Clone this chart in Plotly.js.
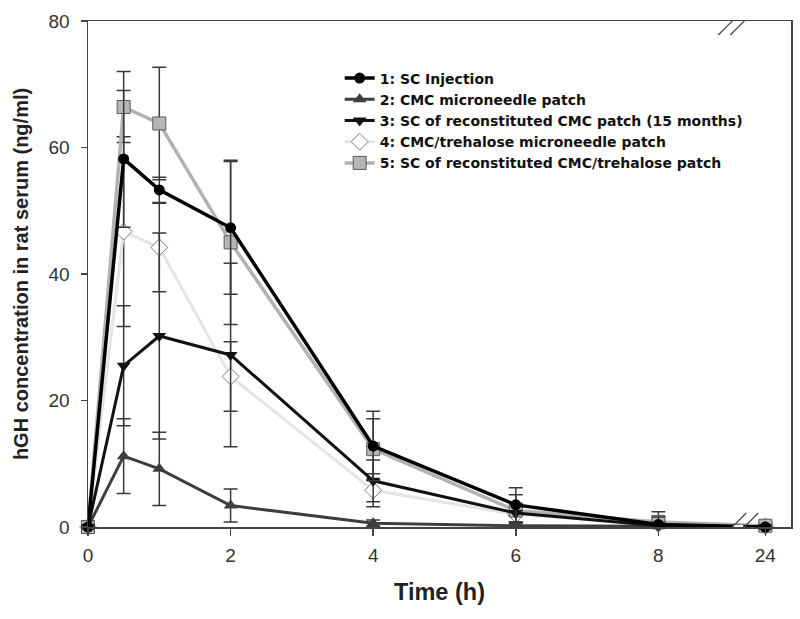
<!DOCTYPE html>
<html>
<head>
<meta charset="utf-8">
<script src="https://cdn.plot.ly/plotly-3.0.1.min.js"></script>
<style>html,body{margin:0;padding:0;background:#fff;}#chart{width:800px;height:619px;}</style>
</head>
<body>
<div id="chart"></div>
<script>
// Sampling times (h)
const times = [0, 0.5, 1, 2, 4, 6, 8, 24];
// Axis break: 24 h is drawn just after 8 h
const breakPos = 9.5;
const tickVals = [0, 2, 4, 6, 8, 24];
const tickText = ['0', '2', '4', '6', '8', '24'];

const names = [
  '1: SC Injection',
  '2: CMC microneedle patch',
  '3: SC of reconstituted CMC patch (15 months)',
  '4: CMC/trehalose microneedle patch',
  '5: SC of reconstituted CMC/trehalose patch'
];
const scInjection      = [0, 58.2, 53.3, 47.3, 12.8, 3.5, 0.4, 0];
const scInjectionErr   = [0, 10.8, 2.0, 10.5, 5.5, 2.7, 1.2, 0.3];
const cmcPatch         = [0, 11.2, 9.2, 3.4, 0.6, 0.2, 0.1, 0];
const cmcPatchErr      = [0, 5.9, 5.8, 2.6, 0.5, 0.3, 0.2, 0];
const scReconCmc       = [0, 25.5, 30.2, 27.2, 7.3, 2.2, 0.2, 0];
const scReconCmcErr    = [0, 9.5, 16.3, 14.5, 3.3, 1.5, 0.5, 0];
const trehPatch        = [0, 46.7, 44.2, 23.8, 5.8, 2.0, 0.5, 0.1];
const trehPatchErr     = [0, 15.0, 7.0, 5.5, 2.6, 1.2, 0.6, 0.3];
const scReconTreh      = [0, 66.4, 63.8, 45.0, 12.3, 2.6, 0.8, 0.2];
const scReconTrehErr   = [0, 5.6, 8.9, 13.0, 4.8, 2.5, 1.6, 0.5];

function pos(t) { return t === 24 ? breakPos : t; }
const xs = times.map(pos);

function trace(i, y, err, lineColor, lineWidth, marker) {
  return {
    type: 'scatter', mode: 'lines+markers', name: names[i],
    x: xs, y: y, cliponaxis: false, legendrank: i + 1,
    line: {color: lineColor, width: lineWidth},
    marker: marker,
    error_y: {type: 'data', array: err, visible: true, color: '#3a3a3a', thickness: 1.5, width: 7}
  };
}

const data = [
  trace(3, trehPatch, trehPatchErr, '#e4e4e4', 3, {symbol: 'diamond', size: 13, color: '#ffffff', line: {color: '#7a7a7a', width: 1}}),
  trace(4, scReconTreh, scReconTrehErr, '#b2b2b2', 3.5, {symbol: 'square', size: 13, color: '#b6b6b6', line: {color: '#5a5a5a', width: 1}}),
  trace(1, cmcPatch, cmcPatchErr, '#3e3e3e', 3, {symbol: 'triangle-up', size: 12, color: '#3e3e3e'}),
  trace(2, scReconCmc, scReconCmcErr, '#111111', 3, {symbol: 'triangle-down', size: 12, color: '#111111'}),
  trace(0, scInjection, scInjectionErr, '#000000', 3.5, {symbol: 'circle', size: 11, color: '#000000'})
];

const bx = 9.12;
function slash(dx, y0) {
  return {type: 'line', xref: 'x', yref: 'y', xsizemode: 'pixel', ysizemode: 'pixel',
    xanchor: bx, yanchor: y0, x0: dx - 14, y0: -14, x1: dx + 14, y1: 14,
    line: {color: '#444', width: 1.2}};
}
function gap(y0) {
  return {type: 'rect', xref: 'x', yref: 'y', xsizemode: 'pixel', ysizemode: 'pixel',
    xanchor: bx, yanchor: y0, x0: -5, x1: 5, y0: -2, y1: 2,
    fillcolor: '#ffffff', line: {width: 0}};
}

const layout = {
  width: 800, height: 619,
  margin: {l: 88, r: 9, t: 21, b: 92},
  paper_bgcolor: '#fff', plot_bgcolor: '#fff',
  font: {family: 'Liberation Sans, Arial, sans-serif', color: '#333'},
  showlegend: true,
  legend: {x: 0.358, y: 0.918, xanchor: 'left', yanchor: 'top', bgcolor: 'rgba(0,0,0,0)',
    font: {family: 'DejaVu Sans, Liberation Sans, Arial, sans-serif', size: 14, color: '#111', weight: 'bold'},
    tracegroupgap: 0, traceorder: 'normal', itemwidth: 30},
  xaxis: {
    range: [0, 9.86], tickvals: tickVals.map(pos), ticktext: tickText,
    showgrid: false, zeroline: false, showline: true, mirror: true,
    linecolor: '#444', linewidth: 1.5, ticks: 'outside', ticklen: 7, tickcolor: '#444', tickwidth: 1.5,
    tickfont: {size: 19, color: '#333'}, ticklabelstandoff: 4,
    title: {text: 'Time (h)', font: {size: 23.5, color: '#222', weight: 'bold'}, standoff: 18}
  },
  yaxis: {
    range: [0, 80], tickvals: [0, 20, 40, 60, 80],
    showgrid: false, zeroline: false, showline: true, mirror: true,
    linecolor: '#444', linewidth: 1.5, ticks: 'outside', ticklen: 6, tickcolor: '#444', tickwidth: 1.5,
    tickfont: {size: 19, color: '#333'}, ticklabelstandoff: 7,
    title: {text: 'hGH concentration in rat serum (ng/ml)', font: {size: 20, color: '#222', weight: 'bold'}, standoff: 14}
  },
  shapes: [gap(0), gap(80), slash(-6, 0), slash(6, 0), slash(-6, 80), slash(6, 80)]
};

Plotly.newPlot('chart', data, layout, {displayModeBar: false, staticPlot: true});
</script>
</body>
</html>
